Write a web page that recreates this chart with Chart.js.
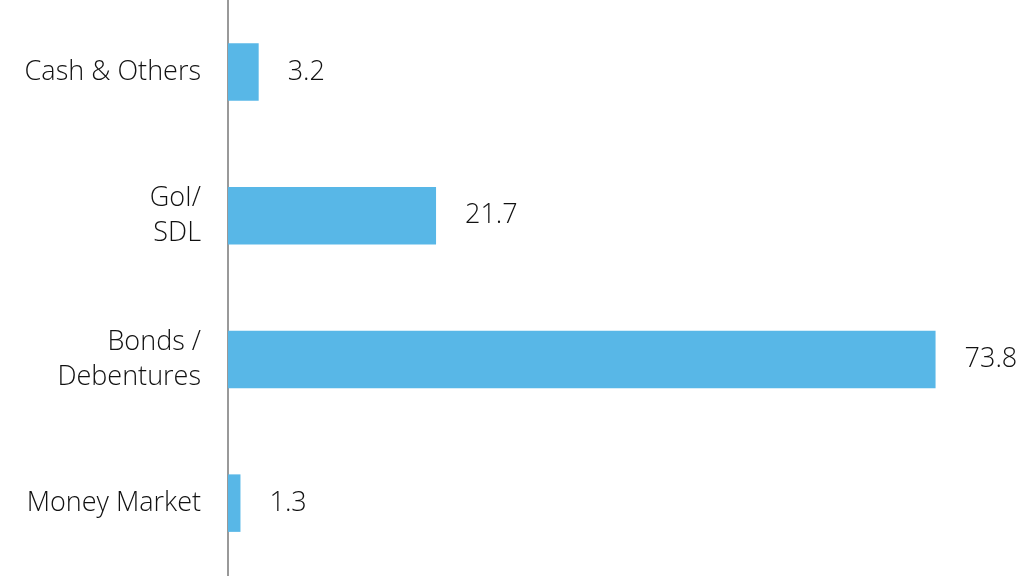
<!DOCTYPE html>
<html>
<head>
<meta charset="utf-8">
<script src="https://cdn.jsdelivr.net/npm/chart.js@4"></script>
<style>
  html, body { margin: 0; padding: 0; background: #fff; }
  #wrap { width: 1033px; height: 584px; }
</style>
</head>
<body>
<div id="wrap"><canvas id="allocChart"></canvas></div>
<script>
// Asset allocation (%)
const categories = [['Cash & Others'], ['GoI/', 'SDL'], ['Bonds /', 'Debentures'], ['Money Market']];
const allocation = [3.2, 21.7, 73.8, 1.3];

const FONT = '"Open Sans", "Noto Sans", sans-serif';

// Draws the value to the right of each bar
const valueLabels = {
  id: 'valueLabels',
  afterDatasetsDraw(chart) {
    const ctx = chart.ctx;
    const meta = chart.getDatasetMeta(0);
    ctx.save();
    ctx.font = '300 27px ' + FONT;
    ctx.fillStyle = '#111';
    ctx.textAlign = 'left';
    ctx.textBaseline = 'middle';
    meta.data.forEach((bar, i) => {
      ctx.fillText(allocation[i].toFixed(1), bar.x + 29, bar.y);
    });
    ctx.restore();
  }
};

new Chart(document.getElementById('allocChart'), {
  type: 'bar',
  data: {
    labels: categories,
    datasets: [{
      data: allocation,
      backgroundColor: '#58B7E7',
      borderWidth: 0,
      categoryPercentage: 1,
      barPercentage: 0.4
    }]
  },
  options: {
    indexAxis: 'y',
    responsive: true,
    maintainAspectRatio: false,
    animation: false,
    layout: { padding: { top: 0, bottom: 9, right: 38, left: 0 } },
    plugins: { legend: { display: false }, tooltip: { enabled: false } },
    scales: {
      x: { display: false, min: 0, max: 80 },
      y: {
        afterFit(scale) {
          scale.width = 228;
          scale.paddingTop = 0;
          scale.paddingBottom = 0;
        },
        grid: { display: false, drawTicks: false },
        border: { display: true, color: '#999', width: 2 },
        ticks: {
          padding: 27,
          color: '#111',
          font: { family: FONT, size: 27, weight: '300', lineHeight: 1.3 }
        }
      }
    }
  },
  plugins: [valueLabels]
});
</script>
</body>
</html>
